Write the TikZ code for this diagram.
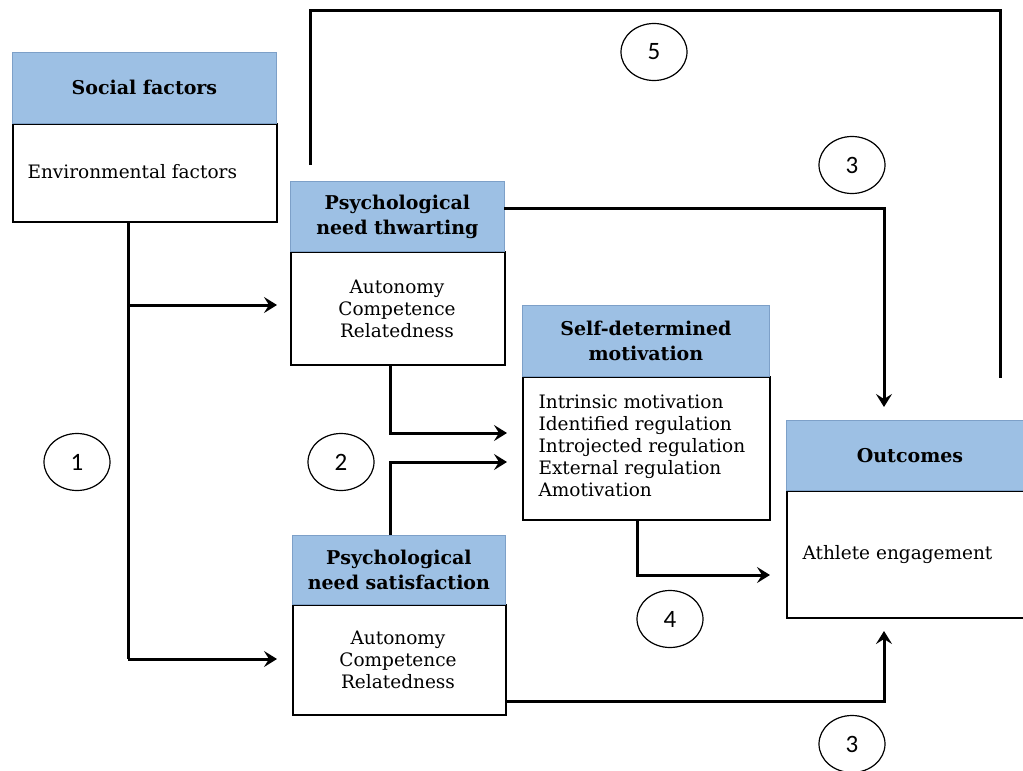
\documentclass[tikz,border=0pt]{standalone}
\usepackage{fontspec}
\setmainfont{DejaVu Serif}
\newfontfamily\numfont{Carlito}
\usetikzlibrary{arrows.meta, positioning, shapes.geometric}
\definecolor{hdrfill}{RGB}{157,192,228}
\definecolor{hdrbdr} {RGB}{125,160,200}
\tikzset{
  hdr/.style={rectangle, draw=hdrbdr, fill=hdrfill, line width=0.8pt,
    anchor=north west, align=center, font=\fontsize{19}{25}\selectfont\bfseries, inner sep=0pt},
  body/.style={rectangle, draw=black, line width=2.2pt, fill=white,
    anchor=north west, inner sep=0pt},
  itemtxt/.style={font=\fontsize{18.5}{22}\selectfont, align=center},
  numcirc/.style={ellipse, draw=black, line width=1.2pt, minimum width=66pt,
    minimum height=57pt, font=\numfont\fontsize{25}{26}\selectfont, inner sep=0pt},
  arr/.style={-{Stealth[length=13pt,width=16pt,inset=5pt]}, line width=3pt},
  link/.style={line width=3pt},
}
\begin{document}
\begin{tikzpicture}[x=1pt,y=-1pt]
\useasboundingbox (0,0) rectangle (1023,771);
% Social factors
\node[body, minimum width=264pt, minimum height=98pt] (socB) at (12,123) {};
\node[hdr, minimum width=264pt, minimum height=71pt] (socH) at (12,52) {Social factors};
\node[itemtxt, anchor=west] (socT) at (24,172) {Environmental factors};
% need thwarting
\node[body, minimum width=214pt, minimum height=113pt] (thwB) at (290,251) {};
\node[hdr, minimum width=214pt, minimum height=70pt] (thwH) at (290,181) {Psychological\\need thwarting};
\node[itemtxt] (thwT) at (397,309) {Autonomy\\Competence\\Relatedness};
% self-determined motivation
\node[body, minimum width=247pt, minimum height=143pt] (sdmB) at (522,376) {};
\node[hdr, minimum width=247pt, minimum height=71pt] (sdmH) at (522,305) {Self-determined\\motivation};
\node[itemtxt, align=left, anchor=north west] (sdmT) at (535,391)
 {Intrinsic motivation\\Identified regulation\\Introjected regulation\\External regulation\\Amotivation};
% outcomes
\node[body, minimum width=240pt, minimum height=127pt] (outB) at (786,490) {};
\node[hdr, minimum width=240pt, minimum height=70pt] (outH) at (786,420) {};
\node[font=\fontsize{19}{25}\selectfont\bfseries] (outL) at (910,456) {Outcomes};
\node[itemtxt, anchor=west] (outT) at (799,555) {Athlete engagement};
% need satisfaction
\node[body, minimum width=213pt, minimum height=110pt] (satB) at (292,604) {};
\node[hdr, minimum width=213pt, minimum height=69pt] (satH) at (292,535) {Psychological\\need satisfaction};
\node[itemtxt] (satT) at (398,660) {Autonomy\\Competence\\Relatedness};
% numbered paths
\node[numcirc] (n5) at (654,52) {5};
\node[numcirc] (n3a) at (852,165) {3};
\node[numcirc] (n1) at (77,462) {1};
\node[numcirc] (n2) at (341,462) {2};
\node[numcirc] (n4) at (670,619) {4};
\node[numcirc] (n3b) at (852,744) {3};
% connectors
\coordinate (brk) at (128,305);
\coordinate (thwEnd) at (310,165);
\coordinate (outEnd) at (1000,378);
\draw[link] (socB.south -| brk) -- (128,659);
\draw[arr] (brk) -- (277,305);
\draw[arr] (128,659) -- (277,659);
\draw[arr] (390,364) |- (507,433);
\draw[arr] (390,535) |- (507,462);
\draw[arr] (637,519) |- (770,575);
\draw[arr] (504,208) -| (884,407);
\draw[arr] (505,701) -| (884,631);
\draw[link] (thwEnd) |- (1000,10) -- (outEnd);
\end{tikzpicture}
\end{document}
